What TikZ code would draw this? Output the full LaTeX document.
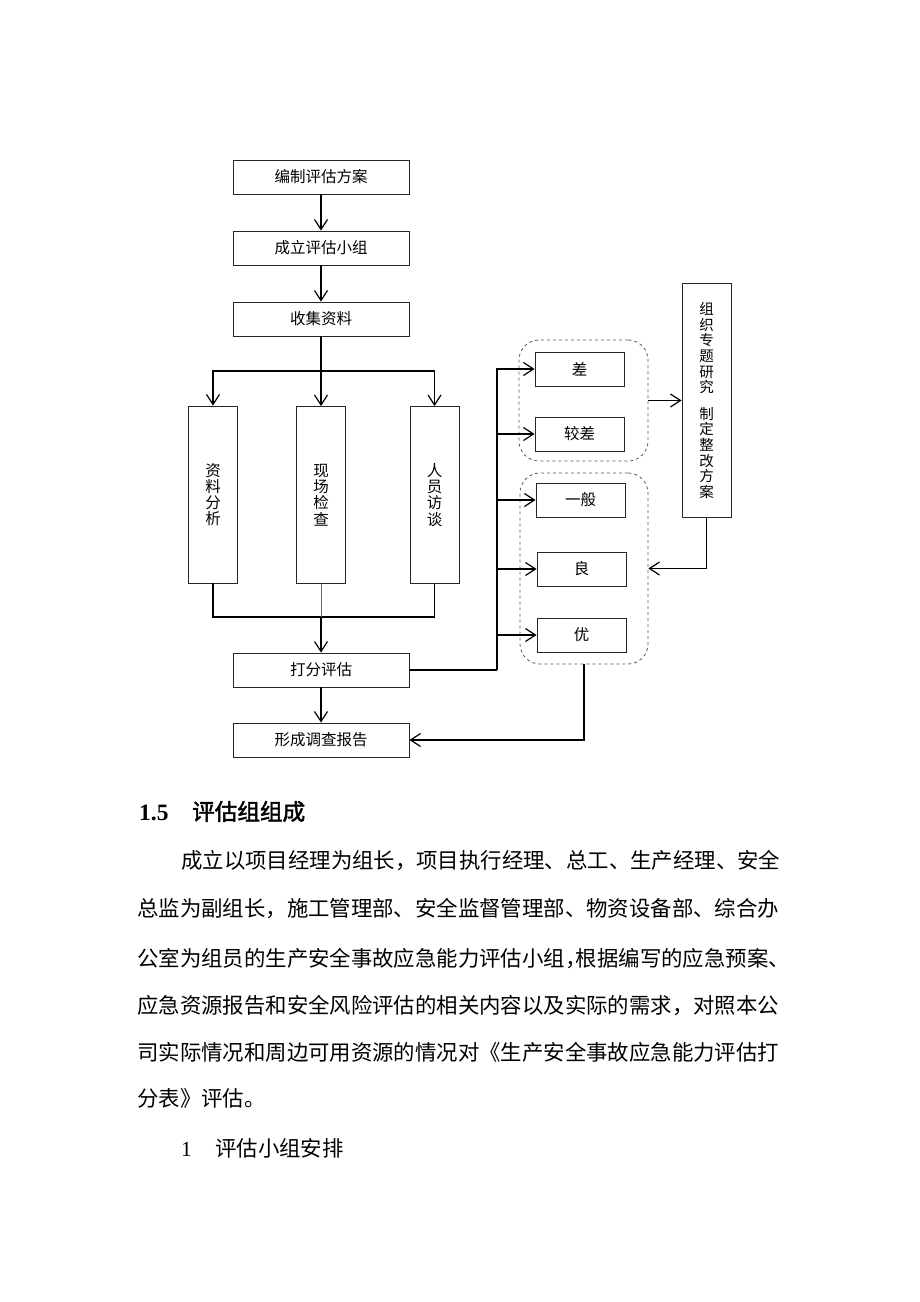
\documentclass[tikz,border=0pt]{standalone}
\usepackage{fontspec}
\setmainfont{Liberation Serif}
\newfontfamily\cjk{Noto Sans CJK SC}
\newfontfamily\cjkb[FakeBold=2]{Noto Sans CJK SC}
\usetikzlibrary{arrows.meta}
\begin{document}
\begin{tikzpicture}[x=1pt,y=-1pt,
  hbox/.style={draw=black!85, line width=0.9pt, inner sep=0pt, minimum width=176, minimum height=34, font=\fontsize{15.5}{16}\cjk},
  sbox/.style={draw=black!85, line width=0.9pt, inner sep=0pt, minimum width=89, minimum height=34, font=\fontsize{15.5}{16}\cjk},
  vbox/.style={draw=black!85, line width=0.9pt, inner sep=0pt, minimum width=49, minimum height=177, align=center, font=\fontsize{15.5}{16.2}\cjk},
  grp/.style={draw=black!65, dashed, line width=0.8pt, rounded corners=20pt, inner sep=0pt},
  ln/.style={draw=black, line width=1.5pt},
  thinln/.style={draw=black!60, line width=0.8pt},
  arr/.style={ln, -{Straight Barb[length=10pt,width=13pt,line width=1.2pt]}},
  body/.style={anchor=base west, inner sep=0pt, font=\fontsize{21.4}{24}\cjk}]
\fill[white] (0,0) rectangle (920,1302);
\useasboundingbox (0,0) rectangle (920,1302);

% main column
\node[hbox] (a) at (321,177) {编制评估方案};
\node[hbox] (b) at (321,248) {成立评估小组};
\node[hbox] (c) at (321,319) {收集资料};
\node[vbox] (z1) at (213,494.5) {资\\料\\分\\析};
\node[vbox] (z2) at (321,495) {现\\场\\检\\查};
\node[vbox] (z3) at (434.5,495) {人\\员\\访\\谈};
\node[hbox] (d) at (321,670) {打分评估};
\node[hbox] (e) at (321,740) {形成调查报告};

% grades
\node[sbox] (r1) at (579.5,369) {差};
\node[sbox] (r2) at (579.5,434) {较差};
\node[sbox] (r3) at (580.5,500) {一般};
\node[sbox] (r4) at (581.5,569) {良};
\node[sbox] (r5) at (581.5,635) {优};
\node[grp, minimum width=129, minimum height=121] (g1) at (583.5,400.5) {};
\node[grp, minimum width=128, minimum height=191] (g2) at (584,568.5) {};
\node[vbox, minimum height=234, font=\fontsize{14.5}{15.6}\cjk] (o) at (706.5,400.5) {组\\织\\专\\题\\研\\究\\[11pt]制\\定\\整\\改\\方\\案};

% connectors
\draw[arr] (a) -- (b);
\draw[arr] (b) -- (c);
\coordinate (j1) at (321,371);
\draw[ln] (c.south) -- (j1);
\draw[arr] (j1) -| (z1.north);
\draw[arr] (j1) -| (z3.north);
\draw[arr] (j1) -- (z2.north);
\coordinate (j2) at (321,617);
\draw[ln] (z1.south) |- (j2);
\draw[ln] (z3.south) |- (j2);
\draw[thinln] (z2.south) -- (j2);
\draw[arr] (j2) -- (d.north);
\draw[arr] (d) -- (e);
\coordinate (j3) at (497,670);
\draw[ln] (d.east) -- (j3);
\foreach \r in {r1,r2,r3,r4,r5} \draw[arr] (j3) |- (\r.west);
\draw[arr] (g1.east) -- (o.west);
\draw[arr] (o.south) |- (g2.east);
\draw[arr] (g2.south) |- (e.east);

% text
\node[anchor=base west, inner sep=0pt, font=\fontsize{23.5}{26}\bfseries] (h1) at (139,820) {1.5};
\node[anchor=base west, inner sep=0pt, font=\fontsize{22.6}{26}\cjkb] (h2) at (192,820) {评估组组成};
\node[body] (t1) at (181,868) {成立以项目经理为组长，项目执行经理、总工、生产经理、安全};
\node[body] (t2) at (137,916) {总监为副组长，施工管理部、安全监督管理部、物资设备部、综合办};
\node[body] (t3) at (137,966) {公室为组员的生产安全事故应急能力评估小组\makebox[0.5em][l]{，}根据编写的应急预案、};
\node[body] (t4) at (137,1013) {应急资源报告和安全风险评估的相关内容以及实际的需求，对照本公};
\node[body] (t5) at (137,1060) {司实际情况和周边可用资源的情况对《生产安全事故应急能力评估打};
\node[body] (t6) at (137,1106) {分表》评估。};
\node[anchor=base west, inner sep=0pt, font=\fontsize{21.4}{24}\selectfont] (t7a) at (181,1156) {1};
\node[body] (t7b) at (215,1156) {评估小组安排};
\end{tikzpicture}
\end{document}
